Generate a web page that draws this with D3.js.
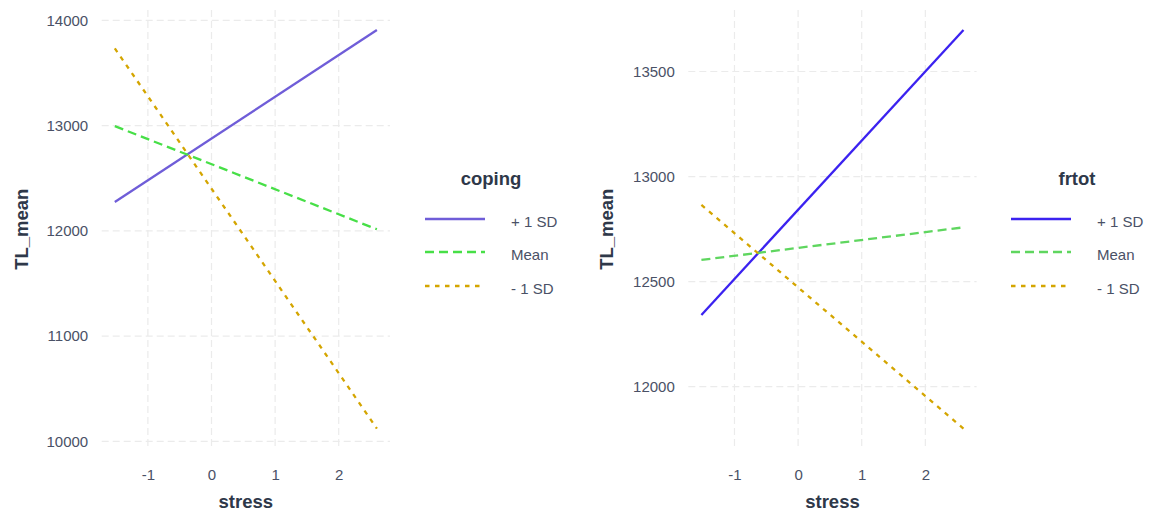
<!DOCTYPE html>
<html>
<head>
<meta charset="utf-8">
<script src="https://cdn.jsdelivr.net/npm/d3@7"></script>
<style>
  html, body { margin: 0; padding: 0; background: #ffffff; }
  svg { display: block; font-family: "Liberation Sans", Arial, sans-serif; }
</style>
</head>
<body>
<svg id="chart" width="1149" height="513"></svg>
<script>
// Simple-slope predictions of TL_mean across stress, for two moderators
const stressRange = [-1.52, 2.6];
const levelLabels = ["+ 1 SD", "Mean", "- 1 SD"];
const xTicks = [-1, 0, 1, 2];

// coping moderator: TL_mean at the two ends of the stress range
const copingHigh = [12275, 13910];
const copingMean = [12996, 12015];
const copingLow  = [13735, 10121];
const copingTicks = [10000, 11000, 12000, 13000, 14000];

// frtot moderator: TL_mean at the two ends of the stress range
const frtotHigh = [12341, 13698];
const frtotMean = [12603, 12758];
const frtotLow  = [12865, 11800];
const frtotTicks = [12000, 12500, 13000, 13500];

const svg = d3.select("#chart");
const tickColor = "#4a5166";
const titleColor = "#2e3849";
const gridColor = "#ebebeb";

const dashes = [null, "9,5", "4.5,5.5"];
const plainNumber = d => String(d);   // keeps an ASCII hyphen for negatives

function drawPanel(opt) {
  const { left, right, top, bottom, series, colors, ticks, legendTitle, legendX } = opt;

  // data extents expanded by 5% on each side
  const xs = stressRange;
  const xPad = (xs[1] - xs[0]) * 0.05;
  const allY = series.flat();
  const yMin = d3.min(allY), yMax = d3.max(allY);
  const yPad = (yMax - yMin) * 0.05;

  const x = d3.scaleLinear().domain([xs[0] - xPad, xs[1] + xPad]).range([left, right]);
  const y = d3.scaleLinear().domain([yMin - yPad, yMax + yPad]).range([bottom, top]);

  const g = svg.append("g");

  // dashed major grid
  const grid = g.append("g");
  grid.selectAll("line.h").data(ticks).join("line")
    .attr("x1", left).attr("x2", right)
    .attr("y1", d => y(d)).attr("y2", d => y(d))
    .attr("stroke", gridColor).attr("stroke-width", 1.2)
    .attr("stroke-dasharray", "7,4");
  grid.selectAll("line.v").data(xTicks).join("line")
    .attr("y1", top).attr("y2", bottom)
    .attr("x1", d => x(d)).attr("x2", d => x(d))
    .attr("stroke", gridColor).attr("stroke-width", 1.2)
    .attr("stroke-dasharray", "7,4");

  // axes (text only)
  const yAxis = d3.axisLeft(y).tickValues(ticks).tickSize(0).tickPadding(13.5).tickFormat(plainNumber);
  const ya = g.append("g").attr("transform", `translate(${left},0)`).call(yAxis);
  ya.select(".domain").remove();
  ya.selectAll("text").attr("fill", tickColor).style("font-size", "15px")
    .style("font-family", "'Liberation Sans', Arial, sans-serif");

  const xAxis = d3.axisBottom(x).tickValues(xTicks).tickSize(0).tickPadding(0).tickFormat(plainNumber);
  const xa = g.append("g").attr("transform", `translate(0,${bottom})`).call(xAxis);
  xa.select(".domain").remove();
  xa.selectAll("text").attr("dy", null).attr("y", 31.5).attr("fill", tickColor)
    .style("font-size", "15px").style("font-family", "'Liberation Sans', Arial, sans-serif");

  // axis titles
  g.append("text")
    .attr("x", (left + right) / 2).attr("y", 508)
    .attr("text-anchor", "middle")
    .attr("fill", titleColor).style("font-size", "18.5px").style("font-weight", "bold")
    .text("stress");
  g.append("text")
    .attr("transform", `translate(${opt.yTitleX},${(top + bottom) / 2}) rotate(-90)`)
    .attr("text-anchor", "middle")
    .attr("fill", titleColor).style("font-size", "18.5px").style("font-weight", "bold")
    .text("TL_mean");

  // prediction lines
  const line = d3.line().x(d => x(d[0])).y(d => y(d[1]));
  series.forEach((vals, i) => {
    const pts = xs.map((xv, j) => [xv, vals[j]]);
    g.append("path")
      .attr("d", line(pts))
      .attr("fill", "none")
      .attr("stroke", colors[i])
      .attr("stroke-width", 2.3)
      .attr("stroke-dasharray", dashes[i]);
  });

  // legend
  const lg = g.append("g");
  const keyW = 60, rowY = [219, 252, 286];
  lg.append("text")
    .attr("x", legendX + 66).attr("y", 184.5)
    .attr("text-anchor", "middle")
    .attr("fill", titleColor).style("font-size", "18.5px").style("font-weight", "bold")
    .text(legendTitle);
  levelLabels.forEach((lab, i) => {
    lg.append("line")
      .attr("x1", legendX).attr("x2", legendX + keyW)
      .attr("y1", rowY[i]).attr("y2", rowY[i])
      .attr("stroke", colors[i]).attr("stroke-width", 2.3)
      .attr("stroke-dasharray", dashes[i]);
    lg.append("text")
      .attr("x", legendX + keyW + 26).attr("y", rowY[i] + 8)
      .attr("fill", tickColor).style("font-size", "15px")
      .text(lab);
  });
}

drawPanel({
  left: 101.7, right: 390, top: 10, bottom: 448.5,
  series: [copingHigh, copingMean, copingLow],
  colors: ["#6f5dd8", "#47df47", "#d4a500"],
  ticks: copingTicks,
  legendTitle: "coping",
  legendX: 425,
  yTitleX: 28
});

drawPanel({
  left: 688.3, right: 976.6, top: 10, bottom: 448.5,
  series: [frtotHigh, frtotMean, frtotLow],
  colors: ["#3b22f0", "#5fd65f", "#d4a500"],
  ticks: frtotTicks,
  legendTitle: "frtot",
  legendX: 1011,
  yTitleX: 613
});
</script>
</body>
</html>
